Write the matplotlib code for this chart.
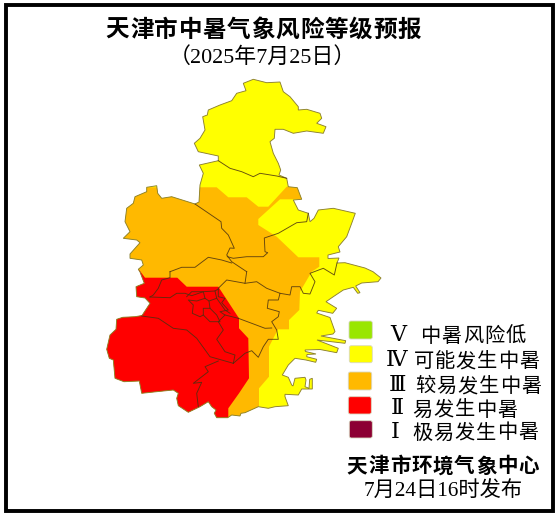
import matplotlib
matplotlib.use("Agg")
import matplotlib.pyplot as plt
from matplotlib.patches import Polygon, FancyBboxPatch, Rectangle

SERIF_CJK = ['Liberation Serif', 'DejaVu Serif', 'Noto Sans CJK SC']

title_text = "天津市中暑气象风险等级预报"
subtitle_text = "（2025年7月25日）"
numerals = ["Ⅴ", "Ⅳ", "Ⅲ", "Ⅱ", "Ⅰ"]
level_names = ["中暑风险低", "可能发生中暑", "较易发生中暑", "易发生中暑", "极易发生中暑"]
level_colors = ["#99E600", "#FFFF00", "#FFB900", "#FF0000", "#8C0033"]
issuer_text = "天津市环境气象中心"
issued_text = "7月24日16时发布"

# Geographic shapes (map coordinates)
outline = [
    (243.3,83.3),(253.3,79.3),(266.7,82.7),(280,82),(283.3,91.7),(290,96.7),(298.3,106.7),(298.3,110),
    (306.7,109.3),(320,113.3),(321.7,118.3),(316.7,123.3),(326,126.7),(323.3,133.3),(306.7,131),(293.3,133.3),
    (283.3,129.3),(275,129.3),(274.3,138.3),(270,141.7),(273.3,153.3),(278.3,163.3),(280.7,170),(279,175),
    (286.7,178.3),(288.3,186.7),(297.3,187.7),(301.7,199.3),(293.3,200),(298.3,210),(308.3,213.3),(310,221.7),
    (314,218.3),(318.3,210),(333.3,208.3),(355.3,213.3),(351.7,223.3),(346.7,236.7),(338.3,246.7),(340,252),
    (328,255),(328,258.5),(339,258),(337,263),(345,262.7),(365,268),(373,271.7),(381,278),(378,281.7),
    (361.7,283),(355.7,286),(360,292.7),(357.7,293.3),(353.3,287.3),(343.3,290),(333.3,296.7),(326,301.7),
    (336.7,308.3),(332.7,313.3),(318.3,310.3),(316.7,313),(330,317.5),(335,331.5),(333,334),(321,336),
    (345.7,340.7),(345,343.3),(317,340),(338.3,348.3),(336.7,352.7),(320,349.5),(305,350),(305.5,351.5),
    (316,354),(307,354.5),(306.7,356.7),(316.7,359.3),(315.7,362.3),(306,360),(295,358.3),(288.3,365),
    (282.3,375),(288.3,377.3),(291.7,385),(293,386),(295,378.3),(305,377.3),(306,380),(305,386.7),(309,388.3),
    (309.7,379.3),(312.3,378.3),(312.3,389),(301.7,389),(298.3,395),(285,394.3),(285,396.7),(288.3,405.7),
    (275,406.7),(268.3,408.3),(258.3,406.7),(245,412.7),(241,413.3),(240,416),(231.7,415),(227.7,417.7),
    (216.7,417.7),(214.3,413.3),(216,410),(211.7,406.7),(208.3,401.7),(200,406.7),(188.3,412.3),(178.3,405.7),
    (176.7,398.3),(178.3,393.3),(173.3,390),(156.7,391.7),(141.7,393.3),(139.3,381),(124,381.7),(115,378.3),
    (113.3,360),(109.3,358.3),(106.7,349.3),(110,335),(116,329.3),(116.7,319.3),(122.7,317.3),(135,316.7),
    (142,315.5),(150,303.3),(145,298),(136.7,296.7),(136,286.7),(144.3,283.3),(140,272),(138.3,269.3),
    (143.3,265),(141.7,260),(130,258.3),(130,254),(140,242.7),(136.7,240),(123.3,238.3),(130,231.7),
    (125,221.7),(126.7,208.3),(133.3,203.3),(135,196.7),(146.7,191.7),(146.7,187.3),(156.7,185.7),(157.7,193.3),
    (161.7,198.3),(171.7,196.7),(195,204),(199,202),(200,185),(203.3,173.3),(199.3,165),(218.3,160.7),
    (218.3,156),(198.3,151.7),(194.3,143.3),(200,138.3),(205,130),(202.7,116.7),(207.3,115),(208.3,110),
    (220,105),(231.7,100.7),(236.7,93.3),(246,90.7),
]

zone_orange = [
    (90,187.3),(216.7,187.3),(228.3,197.3),(246.7,197.3),(258.3,206.7),(268.3,206.7),(286.7,186.7),(310,186.7),
    (310,199.3),(280,199.3),(258.3,219),(258.3,225),(276.7,236.7),(298.3,257.3),(319.3,257.3),(319.3,266.7),
    (311.7,271.7),(300,291.7),(299.3,310),(289,320),(289,329.3),(278,329.3),(269,346.7),(269,376.7),
    (259,388.3),(259,430),(90,430),
]
zone_red = [
    (90,270),(139.3,270),(145,277.7),(177.3,277.7),(186.7,286.7),(218.3,286.7),(239,318.3),(239,328.3),
    (248.3,338.3),(249,378.3),(239,393.3),(228.3,408.3),(228.3,430),(90,430),
]

district_lines = [
    [(218.3,160.7),(230,168.3),(241.7,171.7),(253.3,176.7),(260,173.3),(276.7,176),(286.7,178.3)],
    [(195,204),(221,221.7),(221.7,228.3),(228.3,235),(234.3,248.3),(230,248),(226.7,255),(231.7,261.7),(246.7,271.7)],
    [(170,271.7),(181.7,267.3),(195,267.3),(208.3,257.3),(221.7,260),(231.7,263)],
    [(170,271.7),(170,277.7),(161.7,280),(158.3,288.3),(153.3,295),(150,297)],
    [(308.3,213.3),(306.7,221.7),(296.7,222.7),(278.3,233.3),(264.3,238),(265,251.7),(267.7,252.7),(263.3,256.7),(246.7,256.7),(233.3,258.3),(227.3,256.7)],
    [(246.7,271.7),(245,283.3),(226.7,280),(218.3,288.3),(218.3,296.7),(225,298.3),(221.7,302.7),(228.3,310),(220,311.7),(225,315),(238.3,318.3)],
    [(245,283.3),(256.7,281.7),(266.7,288.3),(280,293.3),(290,295),(291.7,286.7),(300,286.7),(303.3,293.3),(310,294),(315,281.7),(310,273.3),(323.3,268.3),(334.3,275),(337,263)],
    [(280,293.3),(278.3,300),(268.3,300),(267.3,308.3),(279.3,311.7),(278.3,316.7),(271.7,321.7),(276.7,330),(278.3,339.3),(268.3,339.3),(263.3,346.7),(258.3,357.3),(251.7,350.7),(245,353.3),(233.3,363.3)],
    [(238.3,318.3),(251.7,323.3),(265,328.3),(271.7,328)],
    [(141.7,316),(158.3,318.3),(173.3,328.3),(186.7,330),(196.7,338.3),(210,356.7),(233.3,363.3)],
    [(218.3,361),(205,366.7),(208.3,371.7),(193.3,383.3),(201.7,382.3),(196.7,393.3),(198.3,406.7)],
    [(225,315),(218.3,321.7),(223.3,330),(216.7,339.3),(225,351.7),(235,355),(233.3,363.3)],
    [(150,297),(170,297.7),(176.7,293.3),(185,293.3),(191.7,295.7),(203.3,291.7),(215,291),(218.3,289)],
    [(186.7,296.7),(191.7,291.7),(203.3,291.7),(205,298.3),(196.7,301),(188.3,300),(193.3,305),(192.3,313.3),(200,316.7),(203.3,315),(203.3,308.3),(210,308.3),(209,301),(205,298.3)],
    [(215,291),(216.7,298.3),(209,301)],
    [(216.7,298.3),(225,310),(230,313.3)],
    [(203.3,315),(210,321.7),(220,321.7),(216.7,315),(210,308.3)],
]

fig = plt.figure(figsize=(5.58, 5.16), dpi=100, facecolor="white")
ax = fig.add_axes([0, 0, 1, 1])
ax.set_xlim(0, 558)
ax.set_ylim(516, 0)
ax.axis("off")

clip = Polygon(outline, closed=True, transform=ax.transData, facecolor="none", edgecolor="none")
ax.add_patch(clip)
ax.add_patch(Polygon(outline, closed=True, facecolor=level_colors[1], edgecolor="none", zorder=1))
for pts, col, z in ((zone_orange, level_colors[2], 2), (zone_red, level_colors[3], 3)):
    p = Polygon(pts, closed=True, facecolor=col, edgecolor="none", zorder=z)
    ax.add_patch(p)
    p.set_clip_path(clip)

ax.add_patch(Polygon(outline, closed=True, facecolor="none", edgecolor="#8C8030", linewidth=0.65, zorder=4))
for seg in district_lines:
    ax.plot([q[0] for q in seg], [q[1] for q in seg], color="#4A3010", alpha=0.85, lw=0.65, zorder=5, solid_joinstyle="round")

# Frame
ax.add_patch(Rectangle((5.5, 5), 547.5, 506, facecolor="none", edgecolor="black", linewidth=2.8, zorder=6))

# Title
char_title = 24.3
for i, ch in enumerate(title_text):
    ax.text(117.5 + i * char_title, 30, ch, fontsize=17, family=['Noto Sans CJK SC'], weight="bold",
            ha="center", va="center", color="black")
ax.text(262.5, 57, subtitle_text, fontsize=15.8, family=SERIF_CJK, ha="center", va="center", color="black")

# Legend
swatches = [(349, 321, 23.3, 18), (349.3, 345.7, 23, 17), (348.3, 372, 23.4, 18), (348.3, 396.7, 23, 17.3), (349.3, 420.7, 23, 17.3)]
num_x = [398, 396.5, 398, 397.5, 395.5]
label_x = [420, 413, 415, 411.7, 411.7]
label_y = [336.7, 361.7, 386.7, 410, 433]
for i in range(5):
    x, y, w, h = swatches[i]
    ax.add_patch(FancyBboxPatch((x + 1.5, y + 1.5), w - 3, h - 3, boxstyle="round,pad=1.5,rounding_size=2",
                                facecolor=level_colors[i], edgecolor="#D8D8C0", linewidth=0.6, zorder=3))
    ax.text(num_x[i], label_y[i], numerals[i], fontsize=16, family=SERIF_CJK, ha="center", va="center", color="black")
    for j, ch in enumerate(level_names[i]):
        ax.text(label_x[i] + 10.6 + j * 21.2, label_y[i], ch, fontsize=14.6, family=['Noto Sans CJK SC'],
                ha="center", va="center", color="black")

for i, ch in enumerate(issuer_text):
    ax.text(357 + i * 21.5, 466, ch, fontsize=14.8, family=['Noto Sans CJK SC'], weight="bold",
            ha="center", va="center", color="black")
ax.text(443, 491.5, issued_text, fontsize=15.3, family=SERIF_CJK, ha="center", va="center", color="black")

fig.savefig("out.png", dpi=100, facecolor="white")
